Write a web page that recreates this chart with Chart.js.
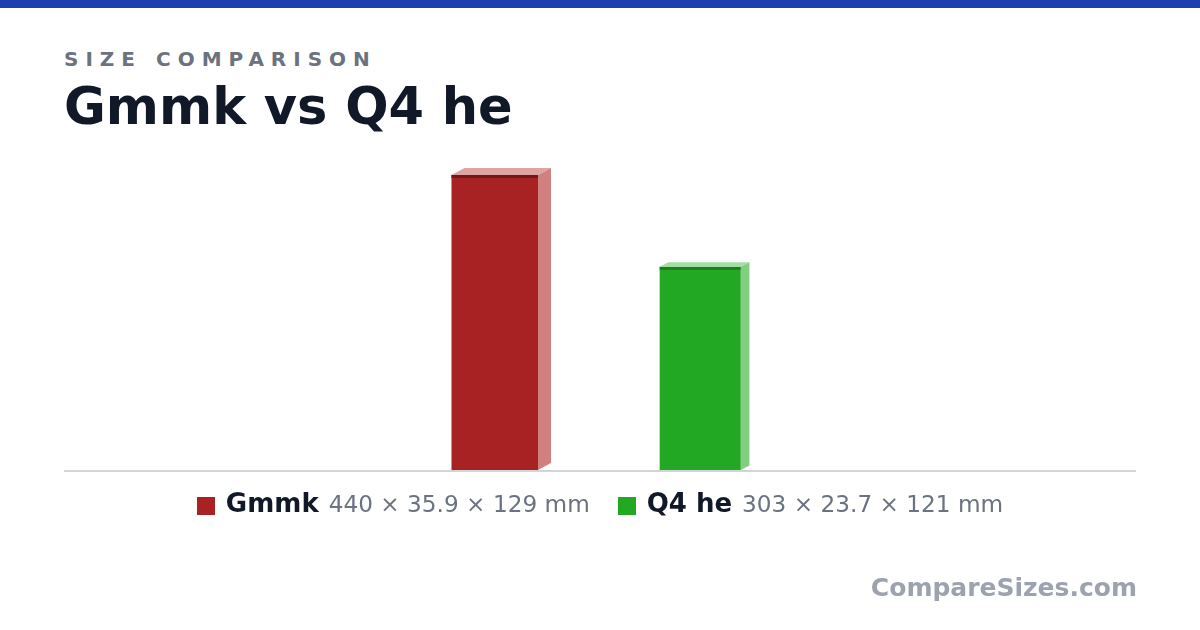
<!DOCTYPE html>
<html>
<head>
<meta charset="utf-8">
<title>Gmmk vs Q4 he</title>
<script src="https://cdn.jsdelivr.net/npm/chart.js@4"></script>
<style>
  body { margin: 0; background: #fff; font-family: "DejaVu Sans", sans-serif; }
  #page { position: relative; width: 1200px; height: 630px; overflow: hidden; }
  #topbar { position: absolute; left: 0; top: 0; width: 1200px; height: 8px; background: #1e40af; }
  #kicker { position: absolute; left: 64px; top: 49px; font-size: 20px; font-weight: bold; letter-spacing: 7px; color: #6b7280; line-height: 1; }
  #title { position: absolute; left: 64px; top: 81px; font-size: 51px; font-weight: bold; color: #111827; line-height: 1; }
  #chartBox { position: absolute; left: 0; top: 0; width: 1200px; height: 630px; }
  #baseline { position: absolute; left: 64px; top: 470px; width: 1072px; height: 2px; background: #d1d5db; }
  #legend { position: absolute; left: 0; top: 490px; width: 1200px; display: flex; justify-content: center; align-items: baseline; line-height: 1; }
  .item { display: flex; align-items: baseline; margin: 0 14px; }
  .swatch { display: inline-block; width: 18px; height: 18px; position: relative; top: 3px; margin-right: 11px; }
  .name { font-size: 26px; font-weight: bold; color: #111827; margin-right: 10px; }
  .dims { font-size: 23.2px; color: #6b7280; }
  #brand { position: absolute; right: 63px; top: 575px; font-size: 25px; font-weight: bold; color: #9ca3af; line-height: 1; }
</style>
</head>
<body>
<div id="page">
  <div id="topbar"></div>
  <div id="kicker">SIZE COMPARISON</div>
  <div id="title">Gmmk vs Q4 he</div>
  <div id="baseline"></div>
  <div id="chartBox"><canvas id="sizeChart"></canvas></div>
  <div id="legend"></div>
  <div id="brand">CompareSizes.com</div>
</div>
<script>
// product dimensions in mm: length x depth x height
const names = ["Gmmk", "Q4 he"];
const lengths = [440, 303];
const depths = [35.9, 23.7];
const heights = [129, 121];

const frontColors = ["#a82224", "#22a822"];
const stripeColors = ["#701719", "#1b7d1d"];
const topColors = ["#dfa3a3", "#a3dfa3"];
const sideColors = ["#d18080", "#80d080"];

function pxPerMm(chart) {
  const y = chart.scales.y;
  return y.getPixelForValue(0) - y.getPixelForValue(1);
}

// top and side faces of each box, plus the dark edge on the front
const boxFaces = {
  id: "boxFaces",
  afterDatasetsDraw(chart) {
    const ctx = chart.ctx;
    const k = pxPerMm(chart);
    chart.data.datasets.forEach((ds, i) => {
      chart.getDatasetMeta(i).data.forEach((bar, j) => {
        if (ds.data[j] == null) return;
        const p = bar.getProps(["x", "y", "width", "base"], true);
        const left = p.x - p.width / 2;
        const right = p.x + p.width / 2;
        const dx = depths[i] * k * 0.54;
        const dy = depths[i] * k * 0.29;
        ctx.save();
        ctx.fillStyle = stripeColors[i];
        ctx.fillRect(left, p.y, p.width, 3);
        ctx.fillStyle = topColors[i];
        ctx.beginPath();
        ctx.moveTo(left, p.y);
        ctx.lineTo(left + dx, p.y - dy);
        ctx.lineTo(right + dx, p.y - dy);
        ctx.lineTo(right, p.y);
        ctx.closePath();
        ctx.fill();
        ctx.fillStyle = sideColors[i];
        ctx.beginPath();
        ctx.moveTo(right, p.y);
        ctx.lineTo(right + dx, p.y - dy);
        ctx.lineTo(right + dx, p.base - dy);
        ctx.lineTo(right, p.base);
        ctx.closePath();
        ctx.fill();
        ctx.restore();
      });
    });
  }
};

new Chart(document.getElementById("sizeChart"), {
  type: "bar",
  data: {
    labels: names,
    datasets: names.map((name, i) => ({
      label: name,
      data: lengths.map((v, j) => (j === i ? v : null)),
      backgroundColor: frontColors[i],
      borderWidth: 0,
      grouped: false,
      maxBarThickness: (ctx) => heights[ctx.datasetIndex] * pxPerMm(ctx.chart),
    })),
  },
  options: {
    responsive: true,
    maintainAspectRatio: false,
    animation: false,
    layout: { padding: { left: 392, right: 397, top: 140, bottom: 160 } },
    scales: {
      x: { display: false, offset: true },
      y: { display: false, min: 0, max: 492 },
    },
    plugins: {
      legend: { display: false },
      tooltip: { enabled: false },
    },
  },
  plugins: [boxFaces],
});

// legend with name and dimensions
const legend = document.getElementById("legend");
names.forEach((name, i) => {
  const item = document.createElement("div");
  item.className = "item";
  item.innerHTML =
    '<span class="swatch" style="background:' + frontColors[i] + '"></span>' +
    '<span class="name">' + name + "</span>" +
    '<span class="dims">' + lengths[i] + " \u00d7 " + depths[i] + " \u00d7 " + heights[i] + " mm</span>";
  legend.appendChild(item);
});
</script>
</body>
</html>
